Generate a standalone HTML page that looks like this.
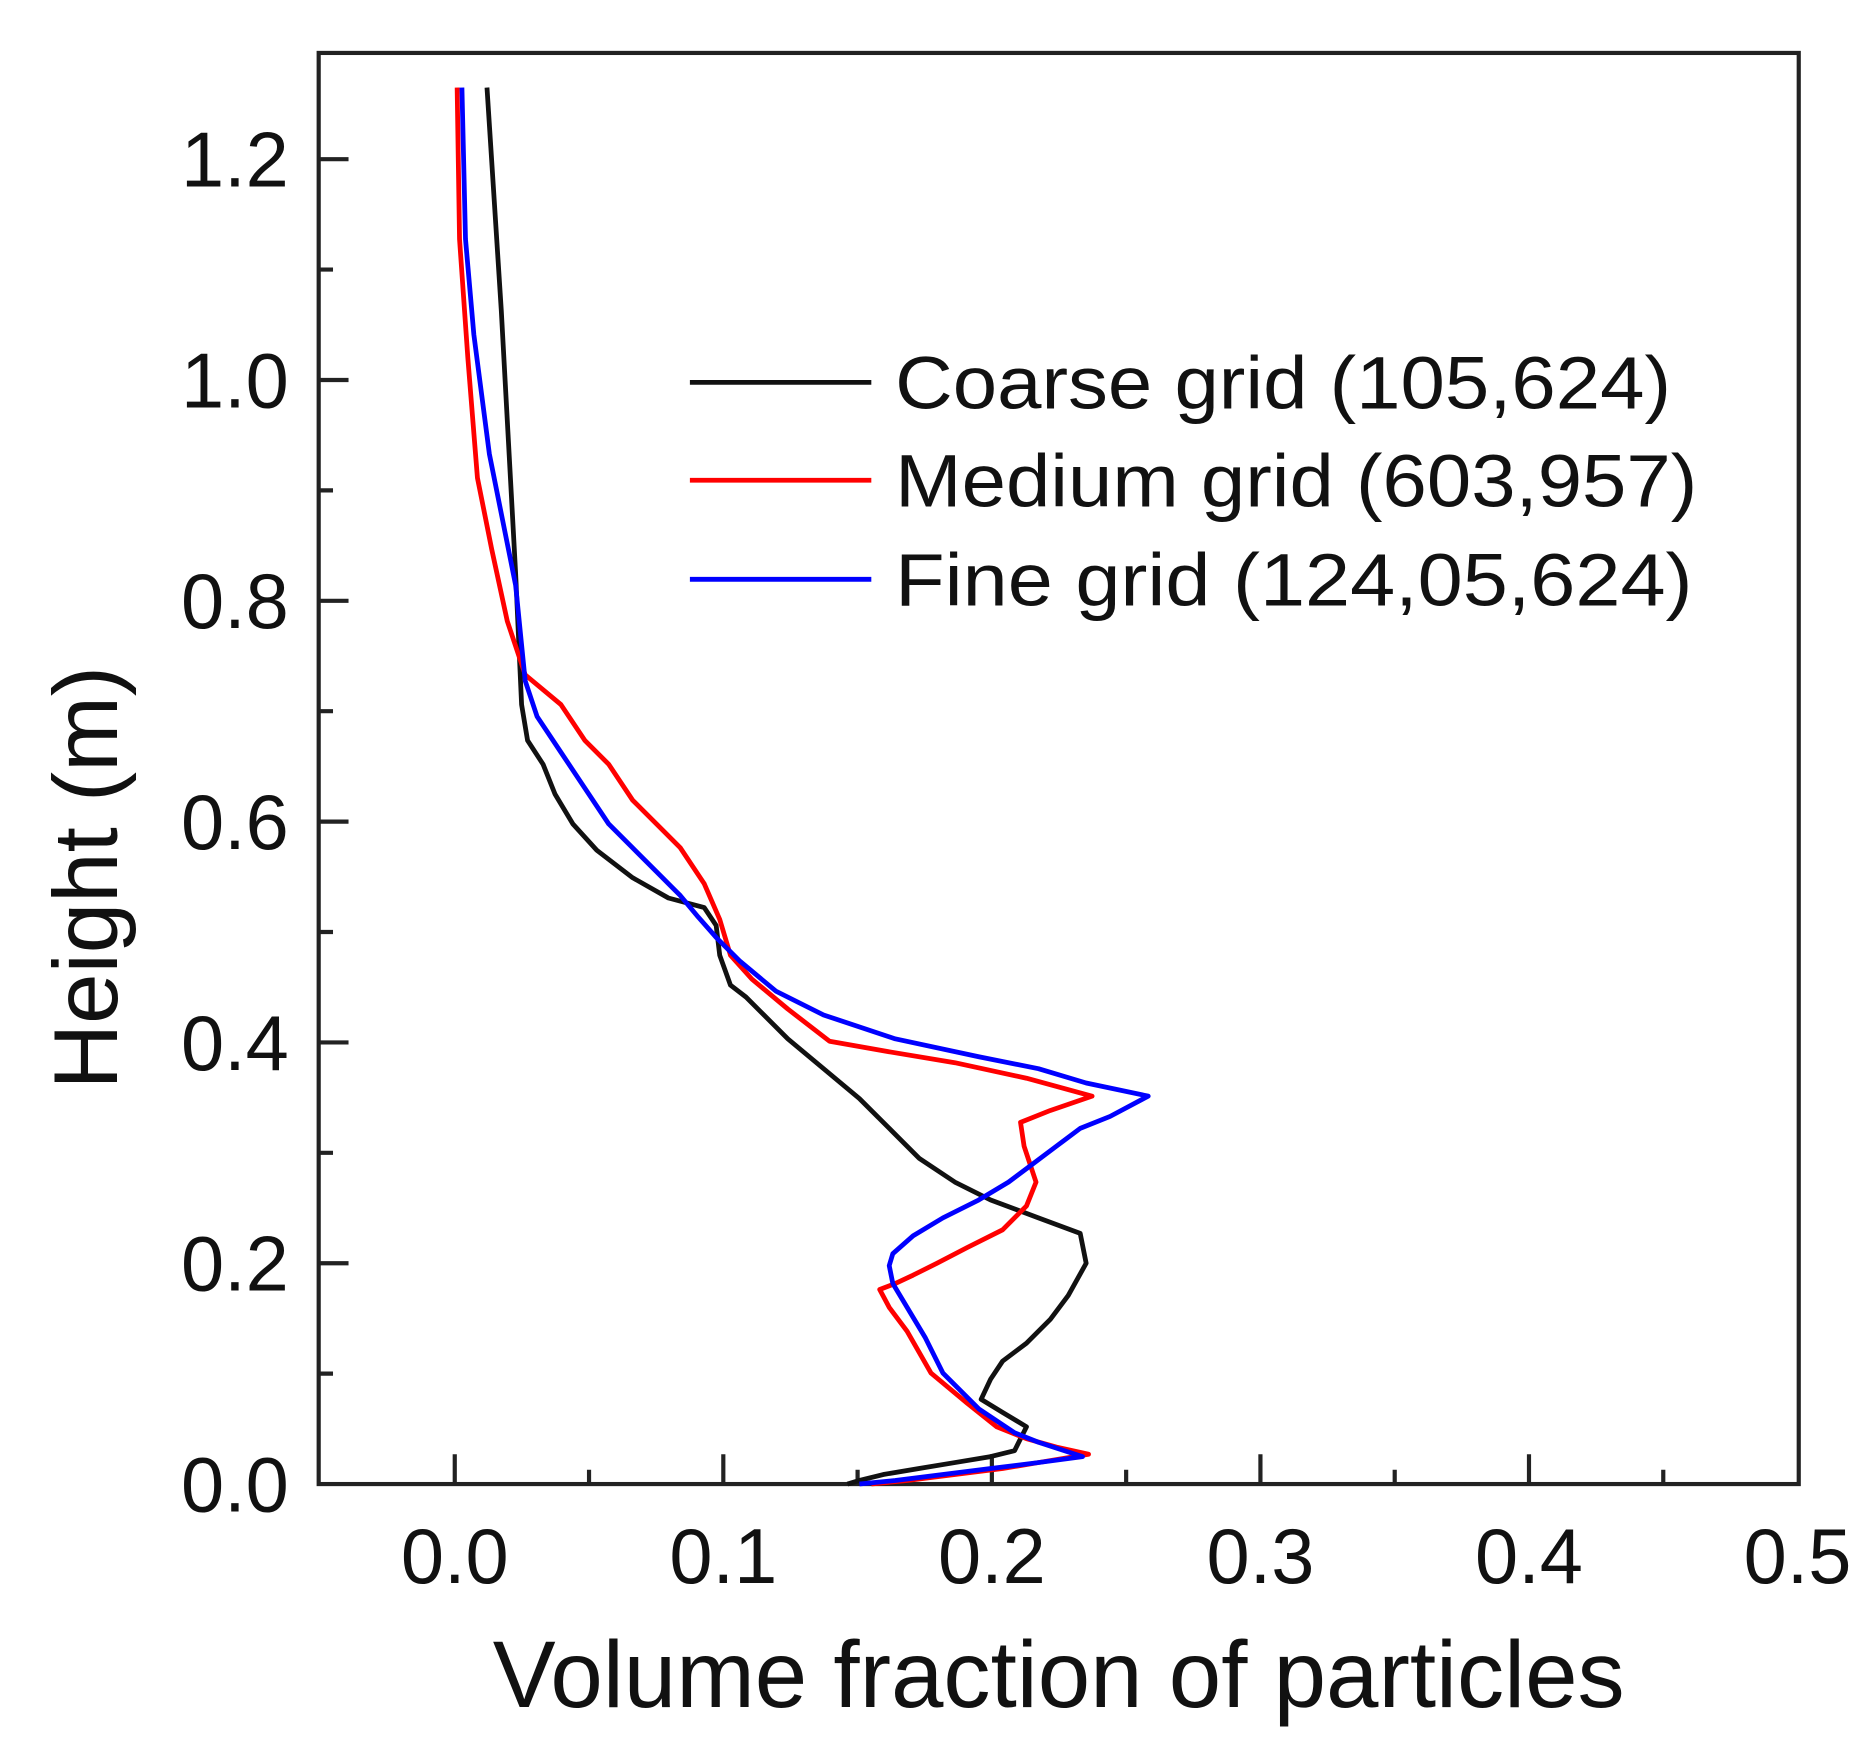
<!DOCTYPE html>
<html><head><style>html,body{margin:0;padding:0;background:#fff}svg{display:block}</style></head>
<body>
<svg width="1862" height="1759" viewBox="0 0 1560 1473" xmlns="http://www.w3.org/2000/svg" font-family="Liberation Sans, Arial, sans-serif">
<rect width="1560" height="1473" fill="#fff"/>
<g stroke="#222" stroke-width="3.5" fill="none">
<rect x="267" y="44" width="1240" height="1199"/>
<path d="M381 1243v-25M493.5 1243v-12M606 1243v-25M718.5 1243v-12M831 1243v-25M943.5 1243v-12M1056 1243v-25M1168.5 1243v-12M1281 1243v-25M1393.5 1243v-12"/>
<path d="M267 1150.5h12M267 1058h25M267 965.5h12M267 873h25M267 780.5h12M267 688h25M267 595.5h12M267 503h25M267 410.5h12M267 318h25M267 225.5h12M267 133h25"/>
</g>
<g font-size="65" fill="#111" text-anchor="end">
<text x="242" y="1266">0.0</text><text x="242" y="1081">0.2</text><text x="242" y="896">0.4</text><text x="242" y="711">0.6</text><text x="242" y="526">0.8</text><text x="242" y="341">1.0</text><text x="242" y="156">1.2</text>
</g>
<g font-size="65" fill="#111" text-anchor="middle">
<text x="381" y="1326">0.0</text><text x="606" y="1326">0.1</text><text x="831" y="1326">0.2</text><text x="1056" y="1326">0.3</text><text x="1281" y="1326">0.4</text><text x="1506" y="1326">0.5</text>
</g>
<text x="887" y="1430" font-size="79" fill="#111" text-anchor="middle">Volume fraction of particles</text>
<text transform="translate(98,735) rotate(-90)" font-size="76" fill="#111" text-anchor="middle">Height (m)</text>
<g fill="none" stroke-width="4" stroke-linejoin="round">
<polyline stroke="#111" points="408,73 420,260 432,480 437,590 442,620 455,640 465,665 480,690 500,712 530,735 560,752 590,760 600,775 603,800 612,825 625,835 640,850 660,870 690,895 720,920 745,945 770,970 800,990 830,1005 870,1020 905,1033 910,1058 895,1085 880,1105 860,1125 840,1140 830,1155 822,1172 840,1183 860,1195 850,1215 830,1220 800,1225 770,1230 740,1235 720,1240 710,1243"/>
<polyline stroke="#f00" points="383,73 385,200 392,300 400,400 412,460 425,520 440,565 470,590 490,620 510,640 530,670 550,690 570,710 590,740 603,770 612,800 630,820 660,845 695,872 740,880 800,890 860,903 915,918 880,930 855,940 858,960 868,990 860,1010 840,1030 810,1045 785,1058 765,1068 750,1075 737,1080 745,1095 760,1115 780,1150 810,1175 835,1195 860,1205 885,1212 912,1218 870,1225 840,1230 800,1235 760,1240 730,1243"/>
<polyline stroke="#00f" points="387,73 390,200 397,280 410,380 420,430 432,490 440,570 450,600 470,630 490,660 510,690 530,710 550,730 570,750 585,768 600,785 620,805 650,830 690,850 750,870 820,885 870,895 910,907 962,918 930,935 905,945 885,960 865,975 845,990 820,1005 790,1020 765,1035 748,1050 745,1060 748,1075 760,1095 775,1120 790,1150 820,1180 850,1200 870,1208 907,1220 870,1225 830,1230 790,1235 750,1240 720,1243"/>
<line x1="578" y1="320" x2="730" y2="320" stroke="#111"/>
<line x1="578" y1="402" x2="730" y2="402" stroke="#f00"/>
<line x1="578" y1="485" x2="730" y2="485" stroke="#00f"/>
</g>
<g font-size="62" fill="#111">
<text x="750" y="342" textLength="650" lengthAdjust="spacingAndGlyphs">Coarse grid (105,624)</text>
<text x="750" y="424" textLength="672" lengthAdjust="spacingAndGlyphs">Medium grid (603,957)</text>
<text x="750" y="507" textLength="668" lengthAdjust="spacingAndGlyphs">Fine grid (124,05,624)</text>
</g>
</svg>
</body></html>
